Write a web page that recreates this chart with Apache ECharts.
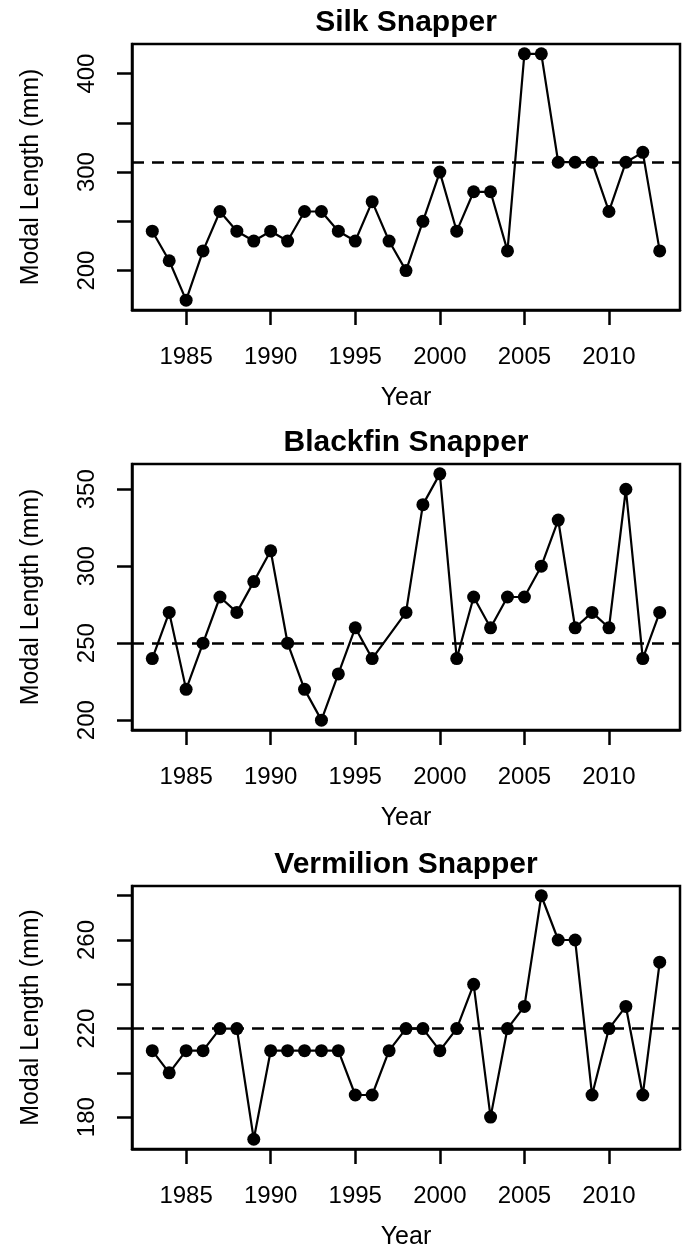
<!DOCTYPE html>
<html>
<head>
<meta charset="utf-8">
<script src="https://cdn.jsdelivr.net/npm/echarts@6/dist/echarts.min.js"></script>
<style>
  html, body { margin: 0; padding: 0; background: #fff; }
  #chart { width: 686px; height: 1251px; }
</style>
</head>
<body>
<div id="chart"></div>
<script>
// years sampled (Blackfin has no 1997 value)
const years = [1983, 1984, 1985, 1986, 1987, 1988, 1989, 1990, 1991, 1992, 1993, 1994, 1995, 1996, 1997,
  1998, 1999, 2000, 2001, 2002, 2003, 2004, 2005, 2006, 2007, 2008, 2009, 2010, 2011, 2012, 2013]
const blackfinYears = [1983, 1984, 1985, 1986, 1987, 1988, 1989, 1990, 1991, 1992, 1993, 1994, 1995, 1996,
  1998, 1999, 2000, 2001, 2002, 2003, 2004, 2005, 2006, 2007, 2008, 2009, 2010, 2011, 2012, 2013]

const silk = [240, 210, 170, 220, 260, 240, 230, 240, 230, 260, 260, 240, 230, 270, 230,
  200, 250, 300, 240, 280, 280, 220, 420, 420, 310, 310, 310, 260, 310, 320, 220]
const blackfin = [240, 270, 220, 250, 280, 270, 290, 310, 250, 220, 200, 230, 260, 240,
  270, 340, 360, 240, 280, 260, 280, 280, 300, 330, 260, 270, 260, 350, 240, 270]
const vermilion = [210, 200, 210, 210, 220, 220, 170, 210, 210, 210, 210, 210, 190, 190, 210,
  220, 220, 210, 220, 240, 180, 220, 230, 280, 260, 260, 190, 220, 230, 190, 250]

const titles = ["Silk Snapper", "Blackfin Snapper", "Vermilion Snapper"]
const refLines = [310, 250, 220]

const xTicks = [1985, 1990, 1995, 2000, 2005, 2010]
const yTicks = [
  [200, 250, 300, 350, 400],
  [200, 250, 300, 350],
  [180, 200, 220, 240, 260, 280],
]
const yLabels = [
  [200, 300, 400],
  [200, 250, 300, 350],
  [180, 220, 260],
]
const yRanges = [[160, 430], [193.6, 366.4], [165.6, 284.4]]

const font = "'Liberation Sans', Arial, sans-serif"
const panelTops = [44, 464, 886]
const plotH = 266
const plotLeft = 132
const plotW = 548

const panels = [
  { x: years, y: silk },
  { x: blackfinYears, y: blackfin },
  { x: years, y: vermilion },
]

const chart = echarts.init(document.getElementById("chart"))

const option = {
  animation: false,
  backgroundColor: "#fff",
  textStyle: { fontFamily: font, color: "#000" },
  graphic: titles.map((t, i) => ({
    type: "text",
    x: plotLeft + plotW / 2,
    y: panelTops[i] - 21,
    style: {
      text: t,
      font: "bold 30px " + font,
      fill: "#000",
      align: "center",
      verticalAlign: "middle",
    },
  })),
  grid: panelTops.map(top => ({
    left: plotLeft,
    top: top,
    width: plotW,
    height: plotH,
    show: true,
    borderColor: "#000",
    borderWidth: 2.5,
    backgroundColor: "transparent",
  })),
  xAxis: panelTops.map((_, i) => ({
    type: "value",
    gridIndex: i,
    min: 1981.8,
    max: 2014.2,
    name: "Year",
    nameLocation: "middle",
    nameGap: 76,
    nameTextStyle: { fontSize: 25, color: "#000", fontFamily: font },
    splitLine: { show: false },
    axisLine: { show: true, onZero: false, lineStyle: { color: "#000", width: 2.5 } },
    axisTick: {
      show: true,
      length: 15,
      customValues: xTicks,
      lineStyle: { color: "#000", width: 2.5 },
    },
    axisLabel: {
      customValues: xTicks,
      formatter: v => String(v),
      fontSize: 24,
      color: "#000",
      fontFamily: font,
      margin: 35,
    },
  })),
  yAxis: panelTops.map((_, i) => ({
    type: "value",
    gridIndex: i,
    min: yRanges[i][0],
    max: yRanges[i][1],
    name: "Modal Length (mm)",
    nameLocation: "middle",
    nameRotate: 90,
    nameGap: 88,
    nameTextStyle: { fontSize: 25, color: "#000", fontFamily: font },
    splitLine: { show: false },
    axisLine: { show: true, lineStyle: { color: "#000", width: 2.5 } },
    axisTick: {
      show: true,
      length: 15,
      customValues: yTicks[i],
      lineStyle: { color: "#000", width: 2.5 },
    },
    axisLabel: {
      customValues: yLabels[i],
      formatter: v => String(v),
      rotate: 90,
      fontSize: 24,
      color: "#000",
      fontFamily: font,
      margin: 33,
    },
  })),
  series: panels.map((p, i) => ({
    type: "line",
    xAxisIndex: i,
    yAxisIndex: i,
    data: p.x.map((yr, k) => [yr, p.y[k]]),
    symbol: "circle",
    symbolSize: 13,
    showSymbol: true,
    itemStyle: { color: "#000" },
    lineStyle: { color: "#000", width: 2.2 },
    markLine: {
      silent: true,
      symbol: "none",
      label: { show: false },
      lineStyle: { color: "#000", width: 2.5, type: [12, 8] },
      data: [{ yAxis: refLines[i] }],
    },
  })),
}

chart.setOption(option)
</script>
</body>
</html>
